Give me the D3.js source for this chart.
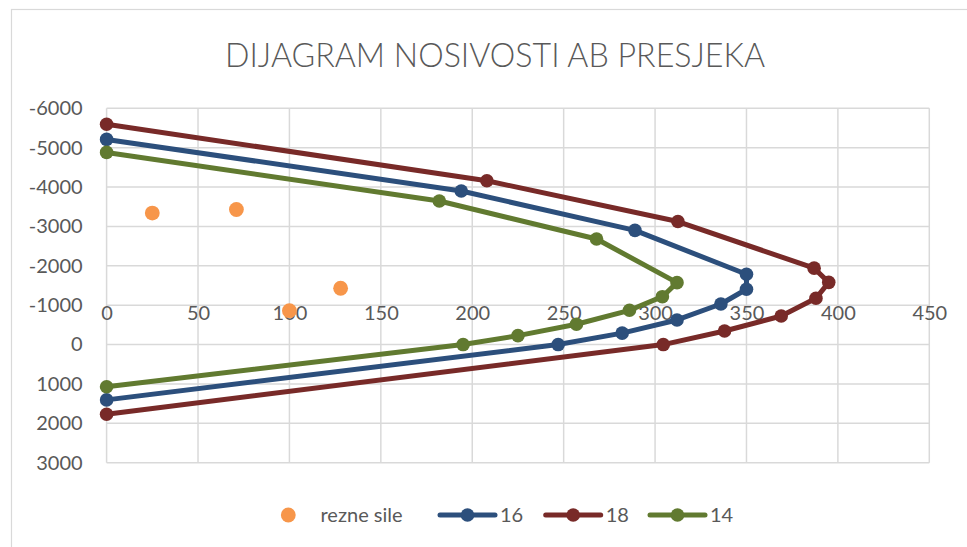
<!DOCTYPE html>
<html>
<head>
<meta charset="utf-8">
<script src="https://cdn.jsdelivr.net/npm/d3@7/dist/d3.min.js"></script>
<style>
  html, body { margin: 0; padding: 0; background: #fff; }
  svg { display: block; }
  text { font-family: Lato, "Open Sans", sans-serif; fill: #595959; }
</style>
</head>
<body>
<svg id="chart" width="967" height="547"></svg>
<script>
// Axis ticks
const xTicks = [0, 50, 100, 150, 200, 250, 300, 350, 400, 450];
const yTicks = [-6000, -5000, -4000, -3000, -2000, -1000, 0, 1000, 2000, 3000];

// Shear forces (points only)
const shearM = [25, 71, 100, 128];
const shearN = [-3340, -3430, -860, -1430];

// Interaction curves, one per bar diameter
const m16 = [0, 194, 289, 350, 350, 336, 312, 282, 247, 0];
const n16 = [-5210, -3900, -2900, -1785, -1405, -1030, -625, -290, 0, 1405];

const m18 = [0, 208, 312.5, 387, 395, 388, 369, 338, 304.5, 0];
const n18 = [-5595, -4160, -3125, -1940, -1580, -1175, -725, -345, 0, 1770];

const m14 = [0, 182, 268, 312, 304, 286, 257, 225, 195, 0];
const n14 = [-4880, -3646, -2680, -1572, -1216, -870, -515, -226, 0, 1070];

const seriesNames = ["rezne sile", "16", "18", "14"];
const colors = { "rezne sile": "#f7964a", "16": "#2c4f7c", "18": "#782a28", "14": "#617a30" };

const svg = d3.select("#chart");

// Chart frame
svg.append("rect")
  .attr("x", 11.5).attr("y", 9.5)
  .attr("width", 1000).attr("height", 600)
  .attr("fill", "none").attr("stroke", "#d9d9d9").attr("stroke-width", 1.2);

const x = d3.scaleLinear().domain([0, 450]).range([106.6, 929.3]);
const y = d3.scaleLinear().domain([-6000, 3000]).range([108.3, 462.7]);

// Gridlines
const grid = svg.append("g").attr("stroke", "#d9d9d9").attr("stroke-width", 1.5);
grid.selectAll("line.v").data(xTicks).join("line")
  .attr("x1", d => x(d)).attr("x2", d => x(d))
  .attr("y1", y(-6000)).attr("y2", y(3000));
grid.selectAll("line.h").data(yTicks).join("line")
  .attr("x1", x(0)).attr("x2", x(450))
  .attr("y1", d => y(d)).attr("y2", d => y(d));

// Axes (labels only)
const xAxis = svg.append("g")
  .attr("transform", `translate(0,${y(-1000)})`)
  .call(d3.axisBottom(x).tickValues(xTicks).tickSize(0).tickPadding(1).tickFormat(d3.format("d")));
const yAxis = svg.append("g")
  .attr("transform", `translate(${x(0)},0)`)
  .call(d3.axisLeft(y).tickValues(yTicks).tickSize(0).tickPadding(24).tickFormat(d => d < 0 ? "-" + Math.abs(d) : String(d)));
[xAxis, yAxis].forEach(a => {
  a.select(".domain").remove();
  a.selectAll("text").style("font-size", "20px").attr("fill", "#595959");
});

// Title
svg.append("text")
  .attr("x", 495).attr("y", 67)
  .attr("text-anchor", "middle")
  .style("font-size", "33px").style("font-weight", 300)
  .attr("textLength", 540).attr("lengthAdjust", "spacingAndGlyphs")
  .text("DIJAGRAM NOSIVOSTI AB PRESJEKA");

// Shear points
svg.append("g").selectAll("circle").data(shearM.map((m, i) => [m, shearN[i]])).join("circle")
  .attr("cx", d => x(d[0])).attr("cy", d => y(d[1])).attr("r", 7.4)
  .attr("fill", colors["rezne sile"]);

// Curves
const curves = [["16", m16, n16], ["18", m18, n18], ["14", m14, n14]];
const line = d3.line().x(d => x(d[0])).y(d => y(d[1]));
curves.forEach(([name, ms, ns]) => {
  const pts = ms.map((m, i) => [m, ns[i]]);
  const g = svg.append("g");
  g.append("path").attr("d", line(pts))
    .attr("fill", "none").attr("stroke", colors[name]).attr("stroke-width", 5)
    .attr("stroke-linejoin", "round").attr("stroke-linecap", "round");
  g.selectAll("circle").data(pts).join("circle")
    .attr("cx", d => x(d[0])).attr("cy", d => y(d[1])).attr("r", 6.8)
    .attr("fill", colors[name]);
});

// Legend
const legendY = 515;
const legend = svg.append("g");
legend.append("circle").attr("cx", 288.3).attr("cy", legendY).attr("r", 7.4).attr("fill", colors["rezne sile"]);
legend.append("text").attr("x", 320.5).attr("y", legendY + 7).style("font-size", "20px").text(seriesNames[0]);
const lineItems = [["16", 440], ["18", 545.7], ["14", 650]];
lineItems.forEach(([name, x0]) => {
  legend.append("line").attr("x1", x0).attr("x2", x0 + 55)
    .attr("y1", legendY).attr("y2", legendY)
    .attr("stroke", colors[name]).attr("stroke-width", 5).attr("stroke-linecap", "round");
  legend.append("circle").attr("cx", x0 + 27.5).attr("cy", legendY).attr("r", 6.8).attr("fill", colors[name]);
  legend.append("text").attr("x", x0 + 60).attr("y", legendY + 7).style("font-size", "20px").text(name);
});
</script>
</body>
</html>
